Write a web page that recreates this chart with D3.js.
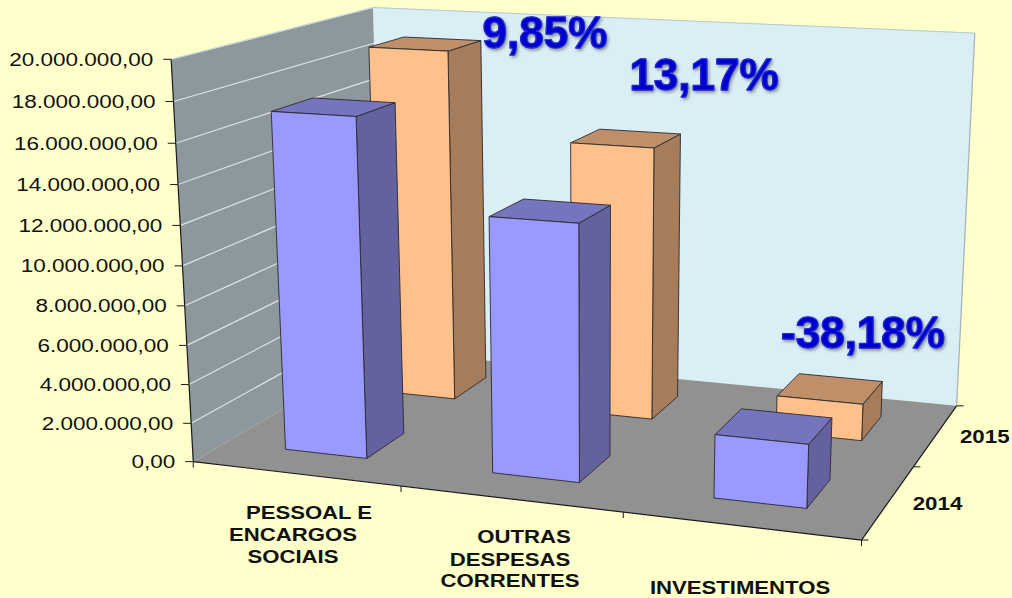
<!DOCTYPE html>
<html><head><meta charset="utf-8">
<script src="https://cdnjs.cloudflare.com/ajax/libs/d3/7.8.5/d3.min.js"></script>
<style>html,body{margin:0;padding:0;background:#FFFFCC}svg{display:block}text{font-family:"Liberation Sans",Arial,sans-serif}</style>
</head><body><svg id="c" width="1012" height="598"></svg>
<script>
const categories=["PESSOAL E ENCARGOS SOCIAIS","OUTRAS DESPESAS CORRENTES","INVESTIMENTOS"];
const seriesNames=["2014","2015"];
const values2014=[17200000,12800000,3150000];
const values2015=[18900000,14480000,1950000];
const tickValues=[0,2e6,4e6,6e6,8e6,10e6,12e6,14e6,16e6,18e6,20e6];
const tickLabels=["0,00","2.000.000,00","4.000.000,00","6.000.000,00","8.000.000,00","10.000.000,00","12.000.000,00","14.000.000,00","16.000.000,00","18.000.000,00","20.000.000,00"];
const categoryLines=[["PESSOAL E","ENCARGOS","SOCIAIS"],["OUTRAS","DESPESAS","CORRENTES"],["INVESTIMENTOS"]];
const categoryLabelX=[[309,293,293],[524,510,510],[740]];
const categoryLabelY=[[519,541,563],[543,566,587],[594]];
const notes=[["9,85%",545,48],["13,17%",704,90],["-38,18%",863,348]];
const colors={bg:"#FFFFCC",back:"#DAEEF6",left:"#8C989C",floor:"#919191",
 "2014":{front:"#9999FF",side:"#63629F",top:"#7574BE"},
 "2015":{front:"#FFC08C",side:"#A67C5B",top:"#BF8F69"}};
// camera calibration: unit-cube corners -> picture
const calib=[[0,0,0,192,461],[1,0,0,862,540],[1,1,0,956,406],[0,1,0,384,351],[0,0,1,172,60],[0,1,1,372,7],[1,1,1,975,33]];
function lsq(rows,rhs){const n=rows[0].length,A=d3.range(n).map(i=>d3.range(n+1).map(j=>0));
 rows.forEach((r,k)=>{for(let i=0;i<n;i++){for(let j=0;j<n;j++)A[i][j]+=r[i]*r[j];A[i][n]+=r[i]*rhs[k];}});
 for(let i=0;i<n;i++){let p=i;for(let k=i+1;k<n;k++)if(Math.abs(A[k][i])>Math.abs(A[p][i]))p=k;[A[i],A[p]]=[A[p],A[i]];
  for(let k=0;k<n;k++)if(k!==i){const f=A[k][i]/A[i][i];for(let j=i;j<=n;j++)A[k][j]-=f*A[i][j];}}
 return A.map((r,i)=>r[n]/r[i]);}
const rows=[],rhs=[];
calib.forEach(([u,w,v,x,y])=>{
 rows.push([u,w,v,1,0,0,0,0,-x*u,-x*w,-x*v]);rhs.push(x);
 rows.push([0,0,0,0,u,w,v,1,-y*u,-y*w,-y*v]);rhs.push(y);});
const P=lsq(rows,rhs);
const proj=(u,w,v)=>{const d=P[8]*u+P[9]*w+P[10]*v+1;return [(P[0]*u+P[1]*w+P[2]*v+P[3])/d,(P[4]*u+P[5]*w+P[6]*v+P[7])/d];};
const xBand=d3.scaleBand().domain(categories).range([0,1]).paddingInner(.6).paddingOuter(.3);
const zBand=d3.scaleBand().domain(seriesNames).range([0,1]).paddingInner(.6).paddingOuter(.3);
const vScale=d3.scaleLinear().domain([0,20000000]).range([0,1]);
const svg=d3.select("#c");
svg.append("rect").attr("width",1012).attr("height",598).attr("fill",colors.bg);
const defs=svg.append("defs");
const f=defs.append("filter").attr("id","sh").attr("x","-10%").attr("y","-20%").attr("width","125%").attr("height","150%");
f.append("feDropShadow").attr("dx",1.5).attr("dy",2).attr("stdDeviation",1.4).attr("flood-color","#555").attr("flood-opacity",.6);
const line=d3.line();
const poly=(pts,fill,stroke,sw)=>svg.append("path").attr("d",line(pts)+"Z").attr("fill",fill).attr("stroke",stroke||"none").attr("stroke-width",sw||0).attr("stroke-linejoin","round");
const seg=(a,b,stroke,sw)=>svg.append("line").attr("x1",a[0]).attr("y1",a[1]).attr("x2",b[0]).attr("y2",b[1]).attr("stroke",stroke).attr("stroke-width",sw);
// walls and floor
poly([proj(0,1,0),proj(1,1,0),proj(1,1,1),proj(0,1,1)],colors.back);
poly([proj(0,0,0),proj(0,1,0),proj(0,1,1),proj(0,0,1)],colors.left);
poly([proj(0,0,0),proj(1,0,0),proj(1,1,0),proj(0,1,0)],colors.floor);
tickValues.forEach(t=>{if(!t)return;const v=vScale(t);
 seg(proj(0,0,v),proj(0,1,v),"#DCE4E4",1.2);
 seg(proj(0,1,v),proj(1,1,v),"#DEEFF7",1);});
seg(proj(0,1,1),proj(1,1,1),"#BCC8CC",1);
seg(proj(1,1,0),proj(1,1,1),"#A9B4B8",1.3);
seg(proj(0,0,1),proj(0,1,1),"#C9D6DA",1);
// axes
const ink="#1A1A1A";
seg(proj(0,0,0),proj(0,0,1),ink,1.2);
seg(proj(0,0,0),proj(1,0,0),ink,1.2);
seg(proj(1,0,0),proj(1,1,0),ink,1.2);
tickValues.forEach((t,i)=>{const p=proj(0,0,vScale(t));
 seg([p[0]-8,p[1]],p,ink,1);
 svg.append("text").attr("transform",`translate(${p[0]-18},${p[1]+6.5}) scale(1.25,1)`).attr("text-anchor","end").attr("font-size",18).attr("fill","#111").text(tickLabels[i]);});
d3.range(4).forEach(i=>{const p=proj(i/3,0,0);seg(p,[p[0],p[1]+6],ink,1);});
d3.range(3).forEach(i=>{const p=proj(1,i/2,0);seg(p,[p[0]+7,p[1]],ink,1);});
// bars, back series first
const seriesValues={"2014":values2014,"2015":values2015};
[...seriesNames].reverse().forEach(s=>{
 categories.forEach((c,i)=>{
  const u0=xBand(c),u1=u0+xBand.bandwidth(),w0=zBand(s),w1=w0+zBand.bandwidth(),v=vScale(seriesValues[s][i]),k=colors[s],e="#2A2A2A",sw=.9;
  poly([proj(u1,w0,0),proj(u1,w1,0),proj(u1,w1,v),proj(u1,w0,v)],k.side,e,sw);
  poly([proj(u0,w0,v),proj(u1,w0,v),proj(u1,w1,v),proj(u0,w1,v)],k.top,e,sw);
  poly([proj(u0,w0,0),proj(u1,w0,0),proj(u1,w0,v),proj(u0,w0,v)],k.front,e,sw);
 });});
// labels
categoryLines.forEach((ls,i)=>ls.forEach((t,j)=>{
 svg.append("text").attr("transform",`translate(${categoryLabelX[i][j]},${categoryLabelY[i][j]}) scale(1.23,1)`).attr("text-anchor","middle").attr("font-size",18).attr("font-weight","bold").attr("fill","#111").text(t);}));
seriesNames.forEach((s,i)=>{const p=proj(1,zBand(s)+zBand.bandwidth()/2,0);
 svg.append("text").attr("transform",`translate(${p[0]+24},${p[1]+8}) scale(1.24,1)`).attr("font-size",18).attr("font-weight","bold").attr("fill","#111").text(s);});
notes.forEach(([t,x,y])=>{
 svg.append("text").attr("x",x).attr("y",y).attr("text-anchor","middle").attr("font-size",44).attr("font-weight","bold").attr("fill","#0000CC").attr("stroke","#0000C4").attr("stroke-width",1.4).attr("stroke-linejoin","round").attr("filter","url(#sh)").text(t);
 svg.append("text").attr("x",x).attr("y",y).attr("text-anchor","middle").attr("font-size",44).attr("font-weight","bold").attr("fill","none").attr("stroke","#3B4CE6").attr("stroke-width",.6).text(t);});
</script></body></html>
